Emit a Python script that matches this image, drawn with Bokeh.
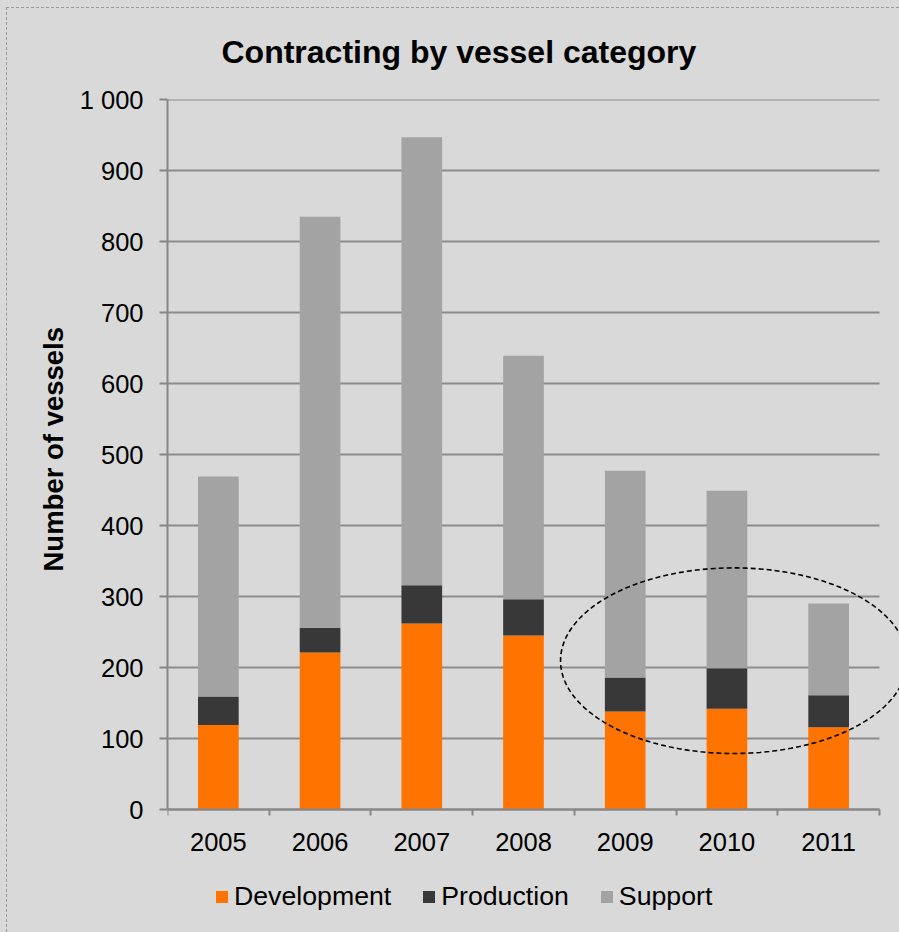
import numpy as np
from bokeh.plotting import figure
from bokeh.models import (ColumnDataSource, Range1d, FixedTicker, Legend, LegendItem,
                          PolyAnnotation, InlineStyleSheet, Title)
from bokeh.embed import file_html
from bokeh.resources import INLINE

# ---- data ----
years = ["2005", "2006", "2007", "2008", "2009", "2010", "2011"]
development = [119, 221, 262, 245, 138, 142, 116]
production = [40, 35, 54, 51, 48, 57, 45]
support = [310, 579, 631, 343, 291, 250, 129]
series_names = ["Development", "Production", "Support"]
y_ticks = [0, 100, 200, 300, 400, 500, 600, 700, 800, 900, 1000]
y_tick_labels = ["0", "100", "200", "300", "400", "500", "600", "700", "800", "900", "1 000"]

# ---- styles ----
BG = "#d9d9d9"
COLORS = ["#ff7300", "#383838", "#a3a3a3"]
AXIS = "#868686"
GRID = "#8c8c8c"
FONT = "Liberation Sans"

n = len(years)
x_pos = [i + 0.5 for i in range(n)]
source = ColumnDataSource(dict(x=x_pos, year=years, Development=development,
                               Production=production, Support=support))

# The frame reaches the right and bottom edges of the page so the highlight ellipse
# and the legend are not cut; axis and grid lines are bounded to the data area.
x_end = n * 732 / 712
y_top = max(y_ticks)
y_start = -y_top * 123 / 710

p = figure(width=899, height=932, x_range=Range1d(0, x_end), y_range=Range1d(y_start, y_top),
           output_backend="svg", toolbar_location=None,
           background_fill_color=BG, border_fill_color=BG,
           min_border_left=167, min_border_right=0, min_border_top=99, min_border_bottom=0,
           outline_line_color=None)

p.stylesheets = [InlineStyleSheet(css=(
    ":host { background: #d9d9d9; } "
    ":host::after { content: ''; position: absolute; left: 6px; top: 7px; "
    "width: 892px; height: 924px; "
    "border-left: 1px dashed #9a9a9a; border-top: 1px dashed #9a9a9a; pointer-events: none; }"))]

# horizontal grid lines (stop at the end of the category axis)
p.segment(x0=[0] * len(y_ticks), x1=[n] * len(y_ticks), y0=y_ticks, y1=y_ticks,
          line_color=GRID, line_width=2, level="underlay")

renderers = p.vbar_stack(series_names, x="x", width=0.4, color=COLORS, line_color=None,
                         source=source)

# title
p.title.text = "Contracting by vessel category"
p.title.align = "left"
p.title.offset = 54
p.title.text_font = FONT
p.title.text_font_size = "32px"
p.title.text_font_style = "bold"
p.title.text_color = "black"
p.title.standoff = 59

# x axis, drawn at y = 0
xa = p.xaxis[0]
xa.fixed_location = 0
xa.bounds = (0, n)
xa.ticker = FixedTicker(ticks=x_pos, minor_ticks=list(range(n + 1)))
xa.major_label_overrides = {x: y for x, y in zip(x_pos, years)}
xa.major_tick_line_color = None
xa.minor_tick_line_color = AXIS
xa.minor_tick_line_width = 2
xa.minor_tick_out = 6
xa.minor_tick_in = 0
xa.axis_line_color = AXIS
xa.axis_line_width = 2
xa.major_label_text_font = FONT
xa.major_label_text_font_size = "25.5px"
xa.major_label_text_color = "black"
xa.major_label_standoff = 17

# y axis
ya = p.yaxis[0]
ya.bounds = (0, y_top)
ya.ticker = FixedTicker(ticks=y_ticks)
ya.major_label_overrides = {t: l for t, l in zip(y_ticks, y_tick_labels)}
ya.minor_tick_line_color = None
ya.major_tick_line_color = AXIS
ya.major_tick_line_width = 2
ya.major_tick_out = 8
ya.major_tick_in = 0
ya.axis_line_color = AXIS
ya.axis_line_width = 2
ya.major_label_text_font = FONT
ya.major_label_text_font_size = "25.5px"
ya.major_label_text_color = "black"
ya.major_label_standoff = 16

# y axis title, placed along the 0..1000 part of the axis
p.add_layout(Title(text="Number of vessels", align="left", offset=361, standoff=16,
                   text_font=FONT, text_font_size="27.5px", text_font_style="bold",
                   text_color="black"), "left")

p.xgrid.grid_line_color = None
p.ygrid.grid_line_color = None

# legend
legend = Legend(items=[LegendItem(label=s, renderers=[r]) for s, r in zip(series_names, renderers)],
                orientation="horizontal", location=(47, 20),
                background_fill_alpha=0, border_line_color=None,
                padding=0, margin=0, spacing=30, label_standoff=5,
                glyph_width=15, glyph_height=15,
                label_text_font=FONT, label_text_font_size="26.7px", label_text_color="black")
p.add_layout(legend, "center")

# dashed ellipse highlighting 2009-2011
ell_cx, ell_cy, ell_rx, ell_ry = 5.568, 209.6, 1.704, 130.7
t = np.linspace(0, 2 * np.pi, 240)
p.add_layout(PolyAnnotation(xs=list(ell_cx + ell_rx * np.cos(t)), ys=list(ell_cy + ell_ry * np.sin(t)),
                            fill_alpha=0, line_color="black", line_alpha=1.0,
                            line_width=1.6, line_dash="5 3"))

open("out.html", "w").write(file_html(p, INLINE))
